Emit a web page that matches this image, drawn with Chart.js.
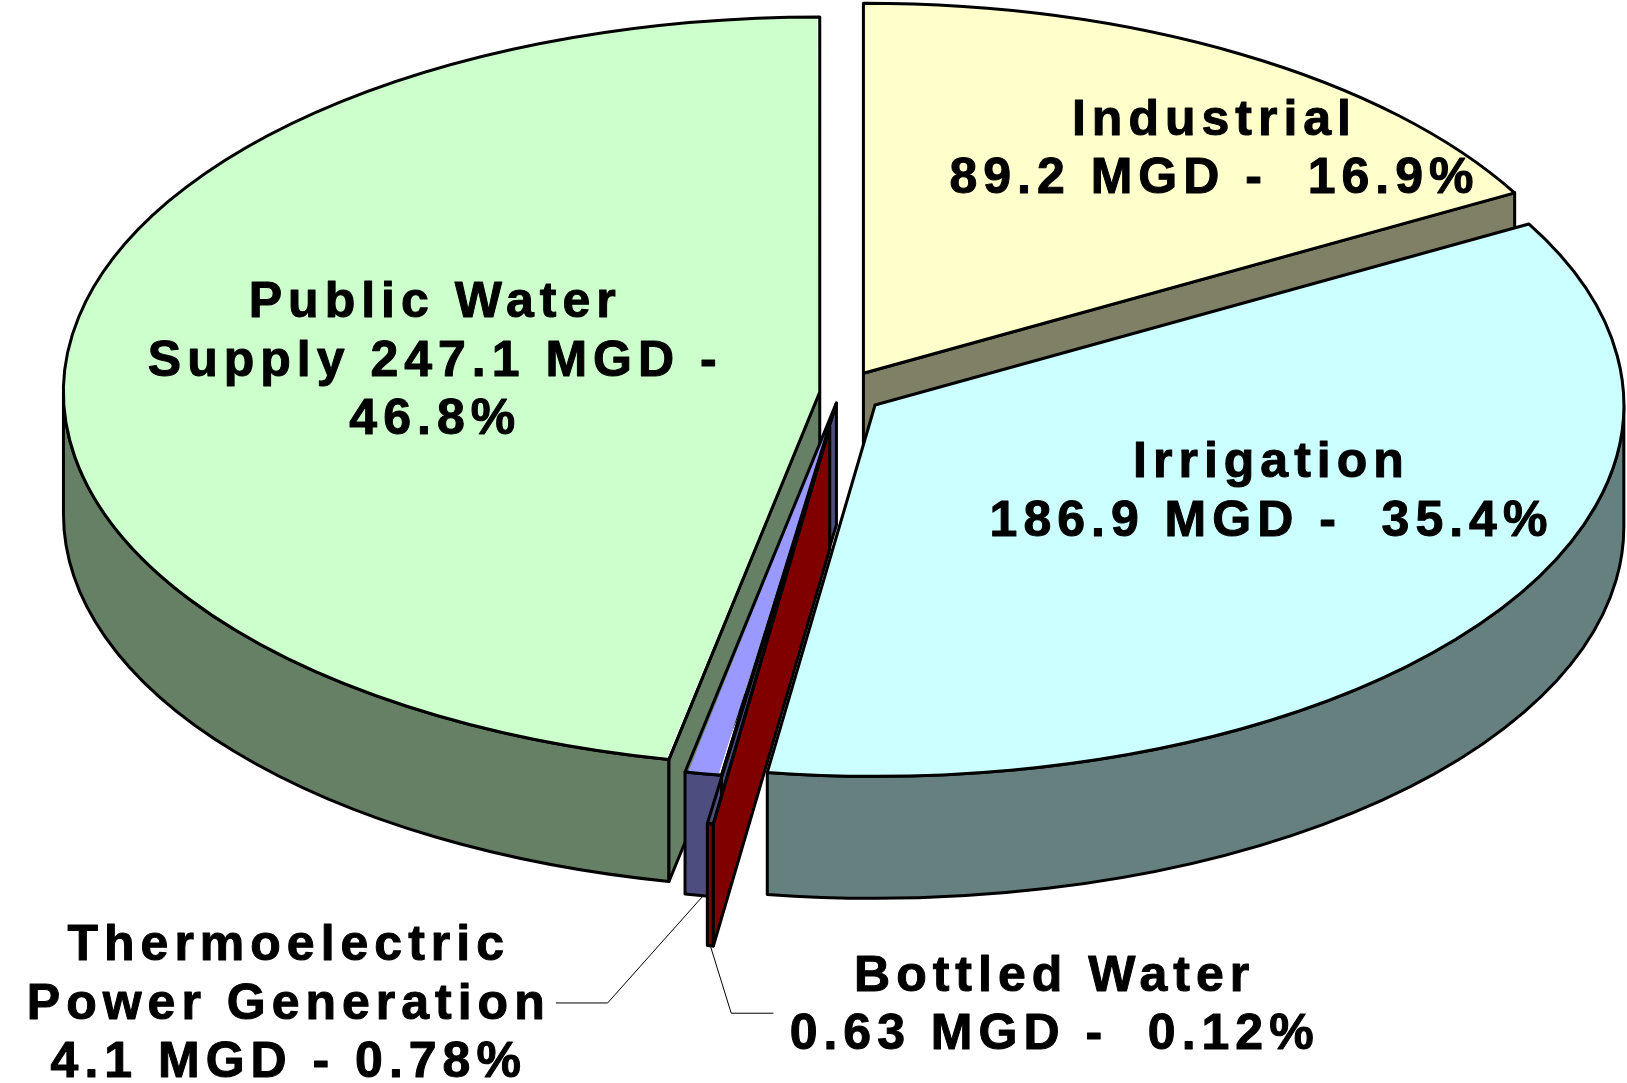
<!DOCTYPE html>
<html><head><meta charset="utf-8">
<script src="https://cdn.jsdelivr.net/npm/chart.js@4/dist/chart.umd.min.js"></script>
<style>html,body{margin:0;padding:0;background:#fff;overflow:hidden}canvas{display:block}</style>
</head><body>
<canvas id="c" width="1627" height="1083"></canvas>
<script>
// ---- data ----
const categories = ['Industrial', 'Irrigation', 'Bottled Water', 'Thermoelectric Power Generation', 'Public Water Supply'];
const mgdValues = [89.2, 186.9, 0.63, 4.1, 247.1];
const percentValues = [16.9, 35.4, 0.12, 0.78, 46.8];
const labelLines = [
  ['Industrial', mgdValues[0] + ' MGD -  ' + percentValues[0] + '%'],
  ['Irrigation', mgdValues[1] + ' MGD -  ' + percentValues[1] + '%'],
  ['Bottled Water', mgdValues[2] + ' MGD -  ' + percentValues[2] + '%'],
  ['Thermoelectric', 'Power Generation', mgdValues[3] + ' MGD - ' + percentValues[3] + '%'],
  ['Public Water', 'Supply ' + mgdValues[4] + ' MGD -', percentValues[4] + '%']
];

// ---- styles ----
const topColors = ['#FFFFCC', '#CCFFFF', '#800000', '#9999FF', '#CCFFCC'];
const sideColors = ['#808066', '#668080', '#800000', '#4D4D80', '#668066'];
const sliceOffsets = [100, 92, 150, 44, 44];
// label anchors in ellipse units (centre x, first baseline y)
const labelAnchors = [[0.502, -0.703], [0.579, 0.229], [0.286, 1.629], [-0.749, 1.545], [-0.551, -0.207]];
const leaderPoints = { 3: [[-0.314, 1.662], [-0.384, 1.662]], 2: [[-0.147, 1.69], [-0.090, 1.69]] };

const VIEW = { cx: 840, cy: 393, rx: 740, ry: 367, depth: 122 };
const R = 400;
const LH = 58.5;

function geom(arc) {
  const p = arc.getProps(['x', 'y', 'startAngle', 'endAngle', 'outerRadius', 'circumference'], true);
  const off = (arc.options.offset || 0) / 4;
  const h = (p.startAngle + p.endAngle) / 2;
  const fix = 1 - Math.sin(Math.min(Math.PI, p.circumference || 0));
  return { cx: p.x + Math.cos(h) * off, cy: p.y + Math.sin(h) * off, r: p.outerRadius + off * fix, s: p.startAngle, e: p.endAngle, h };
}
function applyView(ctx, arc) {
  const sx = VIEW.rx / arc.outerRadius, sy = VIEW.ry / arc.outerRadius;
  ctx.translate(VIEW.cx, VIEW.cy);
  ctx.scale(sx, sy);
  ctx.translate(-arc.x, -arc.y);
}
function toScreen(arc, px, py) {
  const sx = VIEW.rx / arc.outerRadius, sy = VIEW.ry / arc.outerRadius;
  return [VIEW.cx + sx * (px - arc.x), VIEW.cy + sy * (py - arc.y)];
}

const pie3d = {
  id: 'pie3d',
  beforeDatasetsDraw(chart) {
    const ctx = chart.ctx;
    const meta = chart.getDatasetMeta(0);
    const a0 = meta.data[0];
    const D = VIEW.depth / (VIEW.ry / a0.outerRadius);
    const items = [];
    meta.data.forEach((arc, i) => {
      const g = geom(arc);
      const a1 = Math.max(g.s, 0), a2 = Math.min(g.e, Math.PI);
      if (a2 > a1) {
        const m = (a1 <= Math.PI / 2 && a2 >= Math.PI / 2) ? 1 : Math.max(Math.sin(a1), Math.sin(a2));
        items.push({ i, g, type: 'outer', a1, a2, key: g.cy + g.r * m });
      }
      if (Math.cos(g.s) < -1e-9) items.push({ i, g, type: 'rad', a: g.s, key: g.cy + Math.max(0, g.r * Math.sin(g.s)) });
      if (Math.cos(g.e) > 1e-9) items.push({ i, g, type: 'rad', a: g.e, key: g.cy + Math.max(0, g.r * Math.sin(g.e)) });
    });
    items.sort((p, q) => p.key - q.key);
    ctx.save();
    ctx.lineWidth = 3;
    ctx.lineJoin = 'round';
    ctx.strokeStyle = '#000';
    items.forEach(it => {
      const g = it.g;
      ctx.save();
      applyView(ctx, a0);
      ctx.beginPath();
      if (it.type === 'outer') {
        ctx.arc(g.cx, g.cy, g.r, it.a1, it.a2);
        ctx.arc(g.cx, g.cy + D, g.r, it.a2, it.a1, true);
        ctx.closePath();
      } else {
        const px = g.cx + g.r * Math.cos(it.a), py = g.cy + g.r * Math.sin(it.a);
        ctx.moveTo(g.cx, g.cy);
        ctx.lineTo(px, py);
        ctx.lineTo(px, py + D);
        ctx.lineTo(g.cx, g.cy + D);
        ctx.closePath();
      }
      ctx.restore();
      ctx.fillStyle = sideColors[it.i];
      ctx.fill();
      ctx.stroke();
    });
    ctx.restore();
    // transform for the library-drawn top faces
    ctx.save();
    applyView(ctx, a0);
  },
  afterDatasetsDraw(chart) {
    const ctx = chart.ctx;
    ctx.restore();
    const meta = chart.getDatasetMeta(0);
    const a0 = meta.data[0];
    const D = VIEW.depth / (VIEW.ry / a0.outerRadius);
    // top outlines
    ctx.save();
    ctx.lineWidth = 3;
    ctx.lineJoin = 'round';
    ctx.strokeStyle = '#000';
    meta.data.forEach(arc => {
      const g = geom(arc);
      ctx.save();
      applyView(ctx, a0);
      ctx.beginPath();
      ctx.moveTo(g.cx, g.cy);
      ctx.arc(g.cx, g.cy, g.r, g.s, g.e);
      ctx.closePath();
      ctx.restore();
      ctx.stroke();
    });
    ctx.restore();
    // leader lines
    ctx.save();
    ctx.lineWidth = 1;
    ctx.strokeStyle = '#000';
    Object.keys(leaderPoints).forEach(k => {
      const arc = meta.data[k];
      const g = geom(arc);
      const start = toScreen(a0, g.cx + g.r * Math.cos(g.h), g.cy + g.r * Math.sin(g.h) + D);
      ctx.beginPath();
      ctx.moveTo(start[0], start[1]);
      leaderPoints[k].forEach(([u, v]) => ctx.lineTo(VIEW.cx + u * VIEW.rx, VIEW.cy + v * VIEW.ry));
      ctx.stroke();
    });
    ctx.restore();
    // labels
    ctx.save();
    ctx.fillStyle = '#000';
    ctx.strokeStyle = '#000';
    ctx.lineWidth = 1;
    ctx.lineJoin = 'round';
    ctx.font = 'bold 50px "Liberation Sans", Arial, sans-serif';
    ctx.textAlign = 'center';
    ctx.textBaseline = 'alphabetic';
    try { ctx.letterSpacing = '6px'; } catch (e) {}
    labelLines.forEach((lines, i) => {
      const [u, v] = labelAnchors[i];
      const x = VIEW.cx + u * VIEW.rx + 3, y = VIEW.cy + v * VIEW.ry;
      lines.forEach((t, j) => { ctx.fillText(t, x, y + j * LH); ctx.strokeText(t, x, y + j * LH); });
    });
    ctx.restore();
  }
};

new Chart(document.getElementById('c'), {
  type: 'pie',
  data: {
    labels: categories,
    datasets: [{
      data: mgdValues,
      backgroundColor: topColors,
      borderWidth: 0,
      offset: sliceOffsets,
      clip: false
    }]
  },
  options: {
    responsive: false,
    animation: false,
    devicePixelRatio: 1,
    radius: R,
    layout: { padding: 0 },
    events: [],
    plugins: { legend: { display: false }, tooltip: { enabled: false } }
  },
  plugins: [pie3d]
});
</script>
</body></html>
